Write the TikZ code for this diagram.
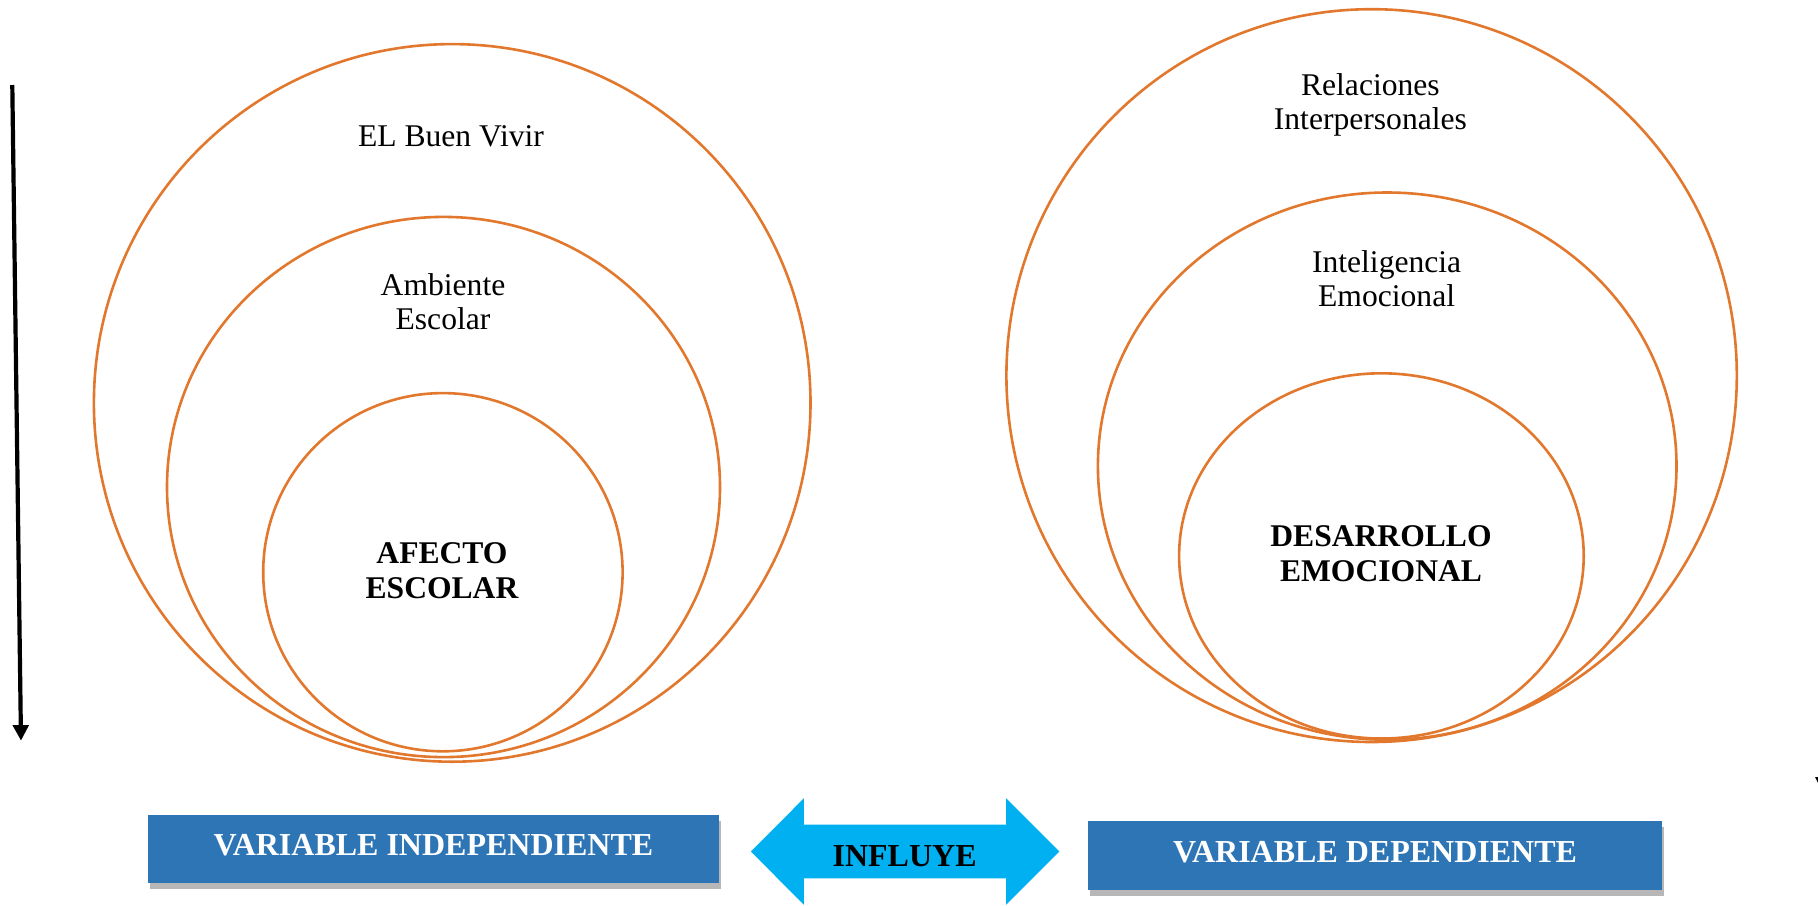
\documentclass[tikz,border=0pt]{standalone}
\usepackage{fontspec}
\setmainfont{Liberation Serif}
\usetikzlibrary{arrows.meta, shadows}
\definecolor{naranja}{RGB}{226,120,46}
\definecolor{azulcaja}{RGB}{46,117,182}
\definecolor{celeste}{RGB}{0,176,240}
\tikzset{
  anillo/.style={draw=naranja, line width=1.3pt},
  rotulo/.style={align=center, inner sep=0pt, text depth=0pt,
    font=\fontsize{15.8pt}{17pt}\selectfont},
  rotulobf/.style={rotulo, font=\fontsize{15.8pt}{17.5pt}\selectfont\bfseries},
  varcaja/.style={fill=azulcaja, text=white, inner sep=0pt,
    text height=10.6pt, text depth=3.8pt,
    font=\fontsize{16pt}{18pt}\selectfont\bfseries,
    drop shadow={shadow xshift=1pt, shadow yshift=-3pt, opacity=.4, fill=black!70}},
}

\begin{document}
\begin{tikzpicture}[x=0.5pt, y=-0.5pt]
    \useasboundingbox (0,0) rectangle (1818,905);
    \coordinate (flechaini) at (12.3,85);
    \coordinate (flechafin) at (21,740.7);
    \draw[line width=2.1pt, -{Triangle[width=7.7pt, length=7.8pt]}] (flechaini) -- (flechafin);
    \fill (1815,777) -- (1818,777) -- (1818,783) -- cycle;
    \draw[anillo] (452.2,402.9) ellipse [x radius=358.3, y radius=358.8];
    \draw[anillo] (443.5,487) ellipse [x radius=276.5, y radius=270.1];
    \draw[anillo] (442.9,572.2) ellipse [x radius=179.7, y radius=179.1];
    \node[rotulo] (buenvivir) at (451,136) {EL Buen Vivir};
    \node[rotulo] (ambiente) at (443,302) {Ambiente\\Escolar};
    \node[rotulobf] (afecto) at (442,571) {AFECTO\\ESCOLAR};
    \draw[anillo] (1371.6,375.6) ellipse [x radius=365.2, y radius=366.4];
    \draw[anillo] (1387.2,466.1) ellipse [x radius=289.3, y radius=273.6];
    \draw[anillo] (1381.4,555.9) ellipse [x radius=202.3, y radius=182.6];
    \node[rotulo] (relaciones) at (1370.4,101.4) {Relaciones\\Interpersonales};
    \node[rotulo] (inteligencia) at (1386.6,278.8) {Inteligencia\\Emocional};
    \node[rotulobf] (desarrollo) at (1381,554) {DESARROLLO\\EMOCIONAL};
    \node[varcaja, minimum width=285.8pt, minimum height=33.85pt] (indep) at (433.5,848.9) {VARIABLE INDEPENDIENTE};
    \node[varcaja, minimum width=287.3pt, minimum height=34.5pt] (dep) at (1375,855.5) {VARIABLE DEPENDIENTE};
    \fill[celeste] (750.8,851.5) -- (803.9,798.3) -- (803.9,824.7) -- (1006.2,824.7)
        -- (1006.2,798.3) -- (1059.3,851.5) -- (1006.2,904.7) -- (1006.2,878.3)
        -- (803.9,878.3) -- (803.9,904.7) -- cycle;
    \node[rotulobf, font=\fontsize{16pt}{18pt}\selectfont\bfseries] (influye) at (904.6,856.5) {INFLUYE};
\end{tikzpicture}
\end{document}
